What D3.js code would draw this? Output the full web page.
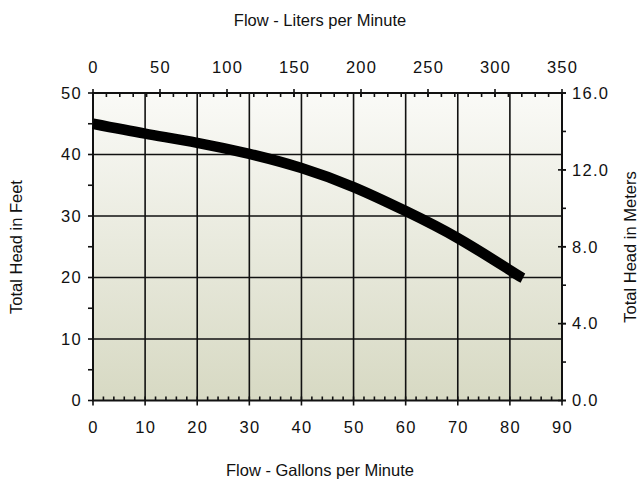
<!DOCTYPE html>
<html>
<head>
<meta charset="utf-8">
<script src="https://cdn.jsdelivr.net/npm/d3@7"></script>
<style>
  html, body { margin: 0; padding: 0; background: #fff; }
  svg { display: block; font-family: "Liberation Sans", Arial, Helvetica, sans-serif; }
  .tick-label { font-size: 16.5px; letter-spacing: 1.3px; fill: #111; }
  .axis-title { font-size: 16.5px; fill: #111; }
</style>
</head>
<body>
<svg id="chart" width="640" height="489"></svg>
<script>
// Pump performance curve: flow (gallons per minute) vs. total head (feet)
const flowGpm = [0, 10, 20, 30, 40, 50, 60, 70, 80, 82.5];
const headFt  = [45, 43.4, 41.9, 40.1, 37.8, 34.7, 30.8, 26.4, 21.2, 19.9];

// Axis tick values
const gpmTicks    = [0, 10, 20, 30, 40, 50, 60, 70, 80, 90];
const lpmTicks    = [0, 50, 100, 150, 200, 250, 300, 350];
const feetTicks   = [0, 10, 20, 30, 40, 50];
const meterTicks  = [0, 4, 8, 12, 16];

const svg = d3.select("#chart");
const plot = { left: 93, right: 562, top: 93, bottom: 400.5 };

const x = d3.scaleLinear().domain([0, 90]).range([plot.left, plot.right]);
const xL = d3.scaleLinear().domain([0, 350]).range([plot.left, plot.right]);
const y = d3.scaleLinear().domain([0, 50]).range([plot.bottom, plot.top]);
const yM = d3.scaleLinear().domain([0, 16]).range([plot.bottom, plot.top]);

// Background gradient
const defs = svg.append("defs");
const grad = defs.append("linearGradient").attr("id", "bg")
  .attr("x1", 0).attr("y1", 0).attr("x2", 0).attr("y2", 1);
grad.append("stop").attr("offset", "0%").attr("stop-color", "#fafaf7");
grad.append("stop").attr("offset", "100%").attr("stop-color", "#d7d9c3");

svg.append("rect")
  .attr("x", plot.left).attr("y", plot.top)
  .attr("width", plot.right - plot.left).attr("height", plot.bottom - plot.top)
  .attr("fill", "url(#bg)");

// Grid lines
const grid = svg.append("g").attr("stroke", "#111").attr("stroke-width", 1.6);
grid.selectAll(".vg").data(gpmTicks.slice(1, -1)).join("line")
  .attr("x1", d => x(d)).attr("x2", d => x(d))
  .attr("y1", plot.top).attr("y2", plot.bottom);
grid.selectAll(".hg").data(feetTicks.slice(1, -1)).join("line")
  .attr("x1", plot.left).attr("x2", plot.right)
  .attr("y1", d => y(d)).attr("y2", d => y(d));

// Tick marks
const ticks = svg.append("g").attr("stroke", "#111").attr("stroke-width", 1.6);
// bottom: minor inward every 2 gpm, major outward every 10
ticks.selectAll(".bmin").data(d3.range(0, 91, 2)).join("line")
  .attr("x1", d => x(d)).attr("x2", d => x(d))
  .attr("y1", plot.bottom).attr("y2", plot.bottom - 4);
ticks.selectAll(".bmaj").data(gpmTicks).join("line")
  .attr("x1", d => x(d)).attr("x2", d => x(d))
  .attr("y1", plot.bottom).attr("y2", plot.bottom + 5);
// top: minor inward every 10 lpm, major crossing every 50
ticks.selectAll(".tmin").data(d3.range(0, 351, 10)).join("line")
  .attr("x1", d => xL(d)).attr("x2", d => xL(d))
  .attr("y1", plot.top).attr("y2", plot.top + 4);
ticks.selectAll(".tmaj").data(lpmTicks).join("line")
  .attr("x1", d => xL(d)).attr("x2", d => xL(d))
  .attr("y1", plot.top - 4).attr("y2", plot.top + 4);
// left: outward every 5 ft
ticks.selectAll(".lmin").data(d3.range(0, 51, 5)).join("line")
  .attr("x1", plot.left - 5).attr("x2", plot.left)
  .attr("y1", d => y(d)).attr("y2", d => y(d));
// right: outward every 2 m, majors crossing
ticks.selectAll(".rmin").data(d3.range(0, 17, 2)).join("line")
  .attr("x1", plot.right).attr("x2", plot.right + 4)
  .attr("y1", d => yM(d)).attr("y2", d => yM(d));
ticks.selectAll(".rmaj").data(meterTicks).join("line")
  .attr("x1", plot.right - 4).attr("x2", plot.right + 4)
  .attr("y1", d => yM(d)).attr("y2", d => yM(d));

// Frame
svg.append("rect")
  .attr("x", plot.left).attr("y", plot.top)
  .attr("width", plot.right - plot.left).attr("height", plot.bottom - plot.top)
  .attr("fill", "none").attr("stroke", "#111").attr("stroke-width", 2);

// Performance curve
const line = d3.line().x((d, i) => x(flowGpm[i])).y(d => y(d)).curve(d3.curveNatural);
svg.append("path")
  .attr("d", line(headFt))
  .attr("fill", "none").attr("stroke", "#000")
  .attr("stroke-width", 10.5).attr("stroke-linecap", "butt");

// Tick labels
const labels = svg.append("g").attr("class", "tick-label");
labels.selectAll(".bl").data(gpmTicks).join("text")
  .attr("x", d => x(d) + 0.6).attr("y", 433).attr("text-anchor", "middle").text(d => d);
labels.selectAll(".tl").data(lpmTicks).join("text")
  .attr("x", d => xL(d) + 0.6).attr("y", 73).attr("text-anchor", "middle").text(d => d);
labels.selectAll(".ll").data(feetTicks).join("text")
  .attr("x", 82).attr("y", d => y(d)).attr("dy", "0.35em")
  .attr("text-anchor", "end").text(d => d);
labels.selectAll(".rl").data(meterTicks).join("text")
  .attr("x", 572).attr("y", d => yM(d)).attr("dy", "0.35em")
  .attr("text-anchor", "start").text(d => d.toFixed(1));

// Axis titles
svg.append("text").attr("class", "axis-title")
  .attr("x", 320).attr("y", 26).attr("text-anchor", "middle")
  .text("Flow - Liters per Minute");
svg.append("text").attr("class", "axis-title")
  .attr("x", 320).attr("y", 476).attr("text-anchor", "middle")
  .text("Flow - Gallons per Minute");
svg.append("text").attr("class", "axis-title")
  .attr("transform", "translate(22,247) rotate(-90)").attr("text-anchor", "middle")
  .text("Total Head in Feet");
svg.append("text").attr("class", "axis-title")
  .attr("transform", "translate(636,247) rotate(-90)").attr("text-anchor", "middle")
  .text("Total Head in Meters");
</script>
</body>
</html>
